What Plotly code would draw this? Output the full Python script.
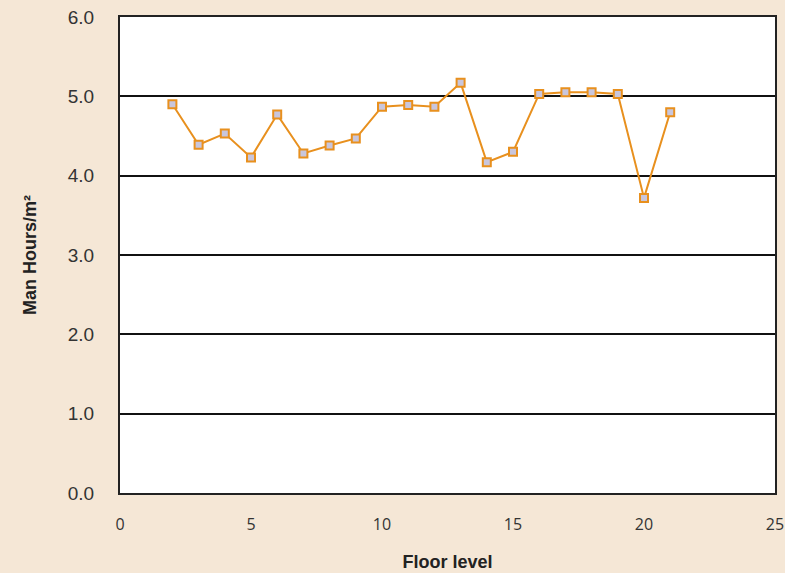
import plotly.graph_objects as go

floors = list(range(2, 22))
man_hours = [4.90, 4.39, 4.53, 4.23, 4.77, 4.28, 4.38, 4.47, 4.87, 4.89,
             4.87, 5.17, 4.17, 4.30, 5.03, 5.05, 5.05, 5.03, 3.72, 4.80]
x_ticks = [0, 5, 10, 15, 20, 25]
y_ticks = [0, 1, 2, 3, 4, 5, 6]
y_tick_labels = ["0.0", "1.0", "2.0", "3.0", "4.0", "5.0", "6.0"]

fig = go.Figure()
fig.add_trace(go.Scatter(
    x=floors, y=man_hours, mode="lines+markers",
    line=dict(color="#E8901E", width=2),
    marker=dict(symbol="square", size=8, color="#C9C6DC",
                line=dict(color="#E8901E", width=2)),
    showlegend=False,
))

fig.update_layout(
    width=785, height=573,
    paper_bgcolor="#F5E7D6",
    plot_bgcolor="#FFFFFF",
    margin=dict(l=120, r=10, t=17, b=80),
    xaxis=dict(
        range=[0, 25], tickvals=x_ticks, ticktext=[str(v) for v in x_ticks],
        automargin=False,
        showgrid=False, zeroline=False,
        showline=True, linecolor="#222222", linewidth=2, mirror=True,
        ticks="outside", ticklen=16, tickcolor="rgba(0,0,0,0)",
        tickfont=dict(family="Open Sans, sans-serif", size=16, color="#333333"),
        title=dict(text="<b>Floor level</b>", standoff=21,
                   font=dict(family="Liberation Sans, Arial, sans-serif", size=18, color="#222222")),
    ),
    yaxis=dict(
        range=[0, 6], tickvals=y_ticks, ticktext=y_tick_labels,
        automargin=False,
        showgrid=True, gridcolor="#111111", gridwidth=1.5, zeroline=False,
        showline=True, linecolor="#222222", linewidth=2, mirror=True,
        ticks="outside", ticklen=20, tickcolor="rgba(0,0,0,0)",
        tickfont=dict(family="Liberation Sans, Arial, sans-serif", size=19, color="#333333"),
        title=dict(text="<b>Man Hours/m²</b>", standoff=26,
                   font=dict(family="Liberation Sans, Arial, sans-serif", size=18, color="#222222")),
    ),
)

fig.write_html("out.html", config={"displayModeBar": False},
               post_script="document.body.style.margin='0';")
